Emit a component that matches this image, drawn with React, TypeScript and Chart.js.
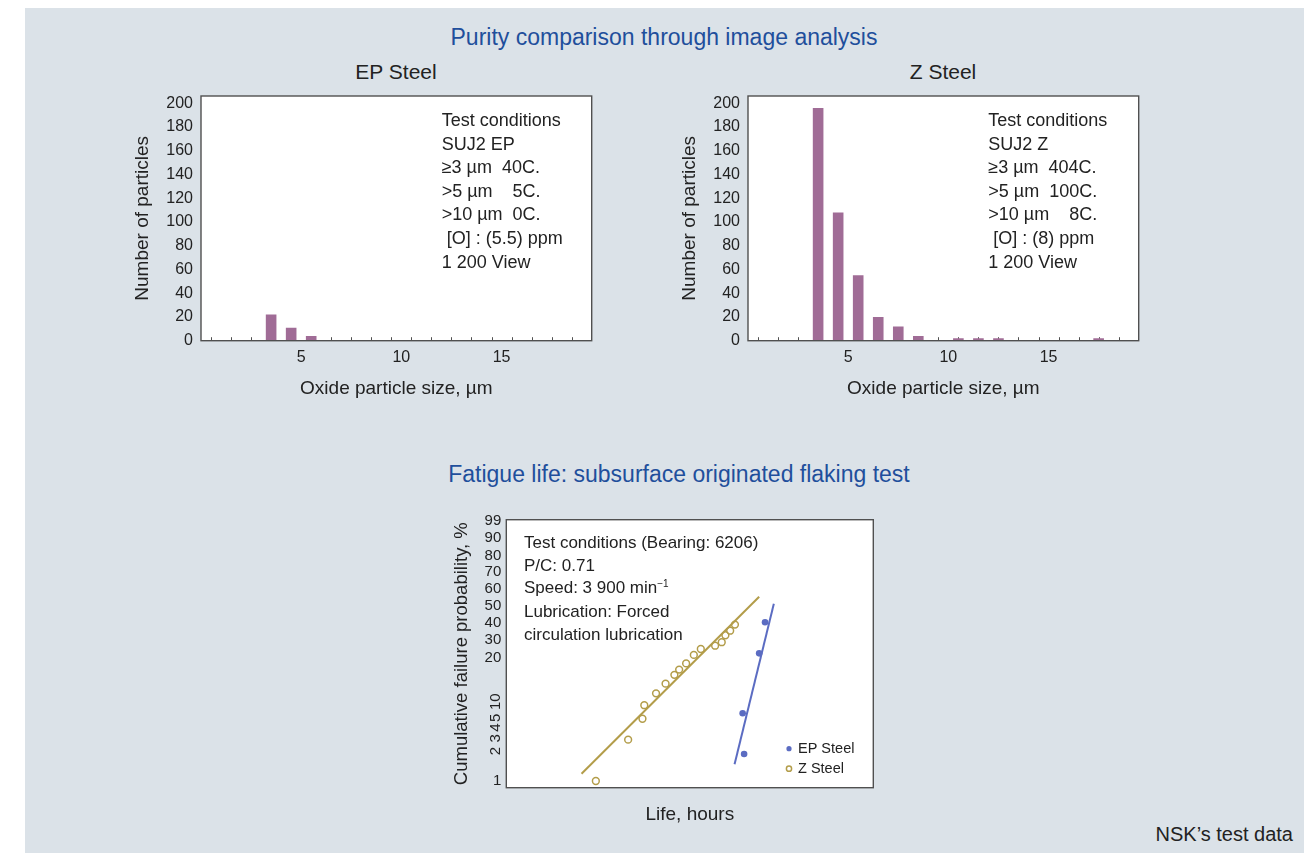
import React, { useEffect, useRef } from 'react';
import { Chart, registerables, LinearScale } from 'chart.js';

Chart.register(...registerables);

// ---------------- data ----------------
// oxide particle size bins (bin centres, µm)
const sizeBins = [0.5, 1.5, 2.5, 3.5, 4.5, 5.5, 6.5, 7.5, 8.5, 9.5, 10.5, 11.5, 12.5, 13.5, 14.5, 15.5, 16.5, 17.5, 18.5];
const epCounts = [0, 0, 0, 22, 11, 4, 0, 0, 0, 0, 0, 0, 0, 0, 0, 0, 0, 0, 0];
const zCounts = [0, 0, 0, 196, 108, 55, 20, 12, 4, 0, 2, 2, 2, 0, 0, 0, 0, 2, 0];
const countTicks = [0, 20, 40, 60, 80, 100, 120, 140, 160, 180, 200];
const sizeTickLabels = [5, 10, 15];

const epNote = ['Test conditions', 'SUJ2 EP', '≥3 µm  40C.', '>5 µm    5C.', '>10 µm  0C.', ' [O] : (5.5) ppm', '1 200 View'];
const zNote = ['Test conditions', 'SUJ2 Z', '≥3 µm  404C.', '>5 µm  100C.', '>10 µm    8C.', ' [O] : (8) ppm', '1 200 View'];

// fatigue life (relative life units, cumulative failure probability %)
const probTicks = [99, 90, 80, 70, 60, 50, 40, 30, 20, 10, 5, 4, 3, 2, 1];
const rotatedProbTicks = [10, 5, 4, 3, 2];
const zLife = [24.4, 33.2, 37.1, 37.6, 40.8, 43.4, 45.8, 47.1, 49.0, 51.1, 53.0, 56.9, 58.7, 59.7, 61.0, 62.3];
const zProb = [1.0, 2.9, 4.9, 8.9, 11.9, 14.1, 16.1, 17.3, 18.7, 21.6, 25.0, 26.9, 28.9, 32.9, 35.5, 39.0];
const epLife = [64.8, 64.4, 68.9, 70.5];
const epProb = [1.9, 6.4, 22.5, 40.4];
const zFitLife = [20.5, 68.9];
const zFitProb = [1.24, 55.5];
const epFitLife = [62.2, 72.9];
const epFitProb = [1.56, 51.5];

// ---------------- styles ----------------
const FONT = '"Liberation Sans", Arial, Helvetica, sans-serif';
const TEXT = '#222';
const BLUE_TITLE = '#1f4f9c';
const BAR = '#a06c96';
const GOLD = '#b39d4a';
const EPBLUE = '#5b6cc2';
const PANEL = '#dbe2e8';

Chart.defaults.font.family = FONT;
Chart.defaults.color = TEXT;

// probability-paper spacing of the printed chart (fraction of axis height from bottom)
const probPaperFrac = [0.995, 0.931, 0.866, 0.804, 0.741, 0.677, 0.615, 0.55, 0.485, 0.321, 0.261, 0.224, 0.184, 0.137, 0.025];

function probToFrac(p: number): number {
  const n = probTicks.length;
  for (let i = 0; i < n - 1; i++) {
    const a = probTicks[i], b = probTicks[i + 1];
    if (p <= a && p >= b) {
      return probPaperFrac[i + 1] + ((p - b) / (a - b)) * (probPaperFrac[i] - probPaperFrac[i + 1]);
    }
  }
  if (p > probTicks[0]) {
    const a = probTicks[0], b = probTicks[1];
    return probPaperFrac[0] + ((p - a) / (a - b)) * (probPaperFrac[0] - probPaperFrac[1]);
  }
  const a = probTicks[n - 2], b = probTicks[n - 1];
  return probPaperFrac[n - 1] - ((b - p) / (a - b)) * (probPaperFrac[n - 2] - probPaperFrac[n - 1]);
}

function fracToProb(f: number): number {
  const n = probTicks.length;
  for (let i = 0; i < n - 1; i++) {
    const fa = probPaperFrac[i], fb = probPaperFrac[i + 1];
    if (f <= fa && f >= fb) {
      return probTicks[i + 1] + ((f - fb) / (fa - fb)) * (probTicks[i] - probTicks[i + 1]);
    }
  }
  return f > probPaperFrac[0] ? probTicks[0] : probTicks[n - 1];
}

class ProbabilityScale extends LinearScale {
  static id = 'probability';
  static defaults = {};
  getPixelForValue(value: number) {
    return this.getPixelForDecimal(probToFrac(value));
  }
  getValueForPixel(pixel: number) {
    return fracToProb(this.getDecimalForPixel(pixel));
  }
}
Chart.register(ProbabilityScale as any);

// ---------------- plugins ----------------
const framePlugin = {
  id: 'frame',
  beforeDraw(chart: any) {
    const { ctx, chartArea: a } = chart;
    ctx.save();
    ctx.fillStyle = '#ffffff';
    ctx.fillRect(a.left, a.top, a.right - a.left, a.bottom - a.top);
    ctx.restore();
  },
  afterDraw(chart: any) {
    const { ctx, chartArea: a } = chart;
    ctx.save();
    ctx.strokeStyle = '#505050';
    ctx.lineWidth = 1.4;
    ctx.strokeRect(a.left, a.top, a.right - a.left, a.bottom - a.top);
    ctx.restore();
  },
};

const binTickPlugin = {
  id: 'binTicks',
  beforeDatasetsDraw(chart: any) {
    const { ctx, chartArea: a } = chart;
    const xs = chart.scales.x;
    ctx.save();
    ctx.strokeStyle = '#505050';
    ctx.lineWidth = 1;
    ctx.beginPath();
    sizeBins.forEach((v) => {
      const px = Math.round(xs.getPixelForValue(v)) + 0.5;
      ctx.moveTo(px, a.bottom);
      ctx.lineTo(px, a.bottom - 3.5);
    });
    ctx.stroke();
    ctx.restore();
  },
};

const rotatedTickPlugin = {
  id: 'rotatedTicks',
  afterDraw(chart: any) {
    const { ctx, chartArea: a } = chart;
    const ys = chart.scales.y;
    ctx.save();
    ctx.font = `15px ${FONT}`;
    ctx.fillStyle = TEXT;
    ctx.textAlign = 'center';
    ctx.textBaseline = 'middle';
    rotatedProbTicks.forEach((v) => {
      const py = ys.getPixelForValue(v);
      ctx.save();
      ctx.translate(a.left - 10, py);
      ctx.rotate(-Math.PI / 2);
      ctx.fillText(String(v), 0, 0);
      ctx.restore();
    });
    ctx.restore();
  },
};

const pointLegendPlugin = {
  id: 'pointLegend',
  afterDraw(chart: any, _args: any, opts: any) {
    const { ctx, chartArea: a } = chart;
    ctx.save();
    ctx.font = `14.5px ${FONT}`;
    ctx.textAlign = 'left';
    ctx.textBaseline = 'middle';
    (opts.items || []).forEach((idx: number, row: number) => {
      const ds = chart.data.datasets[idx];
      const x = a.left + opts.x;
      const y = a.top + opts.y + row * opts.rowGap;
      ctx.beginPath();
      ctx.arc(x, y, opts.radius, 0, Math.PI * 2);
      if (ds.pointBorderWidth > 0) {
        ctx.strokeStyle = ds.pointBorderColor;
        ctx.lineWidth = ds.pointBorderWidth;
        ctx.stroke();
      } else {
        ctx.fillStyle = ds.pointBackgroundColor;
        ctx.fill();
      }
      ctx.fillStyle = TEXT;
      ctx.fillText(ds.label, x + 9, y);
    });
    ctx.restore();
  },
};

// ---------------- components ----------------
function Label(props: { cx?: number; left?: number; right?: number; cy: number; text: string; size: number; color?: string }) {
  const { cx, left, right, cy, text, size, color } = props;
  const lh = size * 1.2;
  const style: any = {
    position: 'absolute',
    top: cy - lh / 2,
    lineHeight: `${lh}px`,
    fontSize: size,
    color: color || TEXT,
    whiteSpace: 'pre',
  };
  if (cx !== undefined) {
    style.left = cx - 400;
    style.width = 800;
    style.textAlign = 'center';
  } else if (right !== undefined) {
    style.left = right - 400;
    style.width = 400;
    style.textAlign = 'right';
  } else {
    style.left = left;
  }
  return <div style={style}>{text}</div>;
}

function Note(props: { left: number; top: number; lines: React.ReactNode[]; size: number; lineHeight: number }) {
  return (
    <div style={{ position: 'absolute', left: props.left, top: props.top, fontSize: props.size, lineHeight: `${props.lineHeight}px`, color: TEXT, whiteSpace: 'pre' }}>
      {props.lines.map((l, i) => (
        <div key={i}>{l}</div>
      ))}
    </div>
  );
}

function HistChart(props: { left: number; top: number; counts: number[] }) {
  const ref = useRef<HTMLCanvasElement>(null);
  const W = 480, H = 339.3;
  useEffect(() => {
    const chart = new Chart(ref.current as HTMLCanvasElement, {
      type: 'bar',
      data: {
        datasets: [
          {
            data: sizeBins.map((b, i) => ({ x: b, y: props.counts[i] })),
            backgroundColor: BAR,
            borderWidth: 0,
            barPercentage: 0.53,
            categoryPercentage: 1,
          } as any,
        ],
      },
      options: {
        animation: false,
        responsive: false,
        maintainAspectRatio: false,
        layout: { padding: { top: 20, right: 8.3, left: 0, bottom: 0 } },
        plugins: { legend: { display: false }, tooltip: { enabled: false } },
        scales: {
          x: {
            type: 'linear',
            min: 0,
            max: 19.5,
            offset: false,
            grid: { display: false, drawTicks: false },
            border: { display: false },
            afterBuildTicks: (s: any) => {
              s.ticks = sizeTickLabels.map((v) => ({ value: v }));
            },
            ticks: { font: { size: 16 }, padding: 7, color: TEXT, autoSkip: false, maxRotation: 0, callback: (v: any) => String(v) },
            title: { display: true, text: 'Oxide particle size, µm', font: { size: 19 }, color: TEXT, padding: { top: 0, bottom: 15.3 } },
            afterFit: (s: any) => {
              s.height = 74.3;
            },
          },
          y: {
            type: 'linear',
            min: 0,
            max: 206,
            grid: { display: false, drawTicks: false },
            border: { display: false },
            afterBuildTicks: (s: any) => {
              s.ticks = countTicks.map((v) => ({ value: v }));
            },
            ticks: { font: { size: 16 }, padding: 8, color: TEXT, autoSkip: false, callback: (v: any) => String(v) },
            title: { display: true, text: 'Number of particles', font: { size: 19 }, color: TEXT, padding: { top: 11.3, bottom: 0 } },
            afterFit: (s: any) => {
              s.width = 81;
            },
          },
        },
      } as any,
      plugins: [framePlugin, binTickPlugin],
    });
    return () => chart.destroy();
  }, []);
  return <canvas ref={ref} width={W} height={H} style={{ position: 'absolute', left: props.left, top: props.top, width: W, height: H }} />;
}

function FatigueChart(props: { left: number; top: number }) {
  const ref = useRef<HTMLCanvasElement>(null);
  const W = 440, H = 330;
  useEffect(() => {
    const chart = new Chart(ref.current as HTMLCanvasElement, {
      type: 'scatter',
      data: {
        datasets: [
          {
            label: 'EP Steel',
            data: epLife.map((x, i) => ({ x, y: epProb[i] })),
            pointRadius: 3.3,
            pointBackgroundColor: EPBLUE,
            pointBorderColor: EPBLUE,
            pointBorderWidth: 0,
            showLine: false,
          },
          {
            label: 'Z Steel',
            data: zLife.map((x, i) => ({ x, y: zProb[i] })),
            pointRadius: 3.4,
            pointBackgroundColor: 'rgba(255,255,255,0)',
            pointBorderColor: GOLD,
            pointBorderWidth: 1.5,
            showLine: false,
          },
          {
            label: 'EP fit',
            data: epFitLife.map((x, i) => ({ x, y: epFitProb[i] })),
            showLine: true,
            borderColor: EPBLUE,
            borderWidth: 2,
            pointRadius: 0,
          },
          {
            label: 'Z fit',
            data: zFitLife.map((x, i) => ({ x, y: zFitProb[i] })),
            showLine: true,
            borderColor: GOLD,
            borderWidth: 2,
            pointRadius: 0,
          },
        ],
      },
      options: {
        animation: false,
        responsive: false,
        maintainAspectRatio: false,
        layout: { padding: { top: 14.7, right: 6.7, left: 0, bottom: 0 } },
        plugins: {
          legend: { display: false },
          tooltip: { enabled: false },
          pointLegend: { items: [0, 1], x: 282.7, y: 229, rowGap: 20, radius: 2.6 },
        },
        scales: {
          x: {
            type: 'linear',
            min: 0,
            max: 100,
            grid: { display: false, drawTicks: false },
            border: { display: false },
            ticks: { display: false },
            title: { display: true, text: 'Life, hours', font: { size: 19 }, color: TEXT, padding: { top: 0, bottom: 9.3 } },
            afterFit: (s: any) => {
              s.height = 47.3;
            },
          },
          y: {
            type: 'probability',
            min: 1,
            max: 99,
            grid: { display: false, drawTicks: false },
            border: { display: false },
            afterBuildTicks: (s: any) => {
              s.ticks = probTicks.map((v) => ({ value: v }));
            },
            ticks: {
              font: { size: 15 },
              padding: 5,
              autoSkip: false,
              callback: (v: any) => String(v),
              color: (c: any) => (c.tick && rotatedProbTicks.includes(c.tick.value) ? 'rgba(0,0,0,0)' : TEXT),
            },
            title: { display: true, text: 'Cumulative failure probability, %', font: { size: 18.5 }, color: TEXT, padding: { top: 10.9, bottom: 0 } },
            afterFit: (s: any) => {
              s.width = 66.3;
            },
          },
        },
      } as any,
      plugins: [framePlugin, rotatedTickPlugin, pointLegendPlugin],
    });
    return () => chart.destroy();
  }, []);
  return <canvas ref={ref} width={W} height={H} style={{ position: 'absolute', left: props.left, top: props.top, width: W, height: H }} />;
}

export default function App() {
  const fatigueNote: React.ReactNode[] = [
    'Test conditions (Bearing: 6206)',
    'P/C: 0.71',
    <span key="s">
      Speed: 3 900 min<span style={{ fontSize: 10, position: 'relative', top: -6 }}>−1</span>
    </span>,
    'Lubrication: Forced',
    'circulation lubrication',
  ];
  return (
    <div style={{ position: 'absolute', left: 0, top: 0, width: 1313, height: 853, fontFamily: FONT, color: TEXT, overflow: 'hidden' }}>
      <div style={{ position: 'absolute', left: 25, top: 8, width: 1279, height: 845, background: PANEL }} />
      <Label cx={664} cy={38} text="Purity comparison through image analysis" size={23} color={BLUE_TITLE} />
      <Label cx={396} cy={72} text="EP Steel" size={21} />
      <Label cx={943} cy={72} text="Z Steel" size={21} />
      <HistChart left={120} top={75.7} counts={epCounts} />
      <HistChart left={667} top={75.7} counts={zCounts} />
      <Note left={441.7} top={109} lines={epNote} size={18} lineHeight={23.6} />
      <Note left={988.3} top={109} lines={zNote} size={18} lineHeight={23.6} />
      <Label cx={679} cy={475} text="Fatigue life: subsurface originated flaking test" size={23} color={BLUE_TITLE} />
      <FatigueChart left={440} top={505} />
      <Note left={524} top={532.1} lines={fatigueNote} size={17} lineHeight={22.4} />
      <Label right={1293} cy={833.5} text="NSK’s test data" size={20} />
    </div>
  );
}
